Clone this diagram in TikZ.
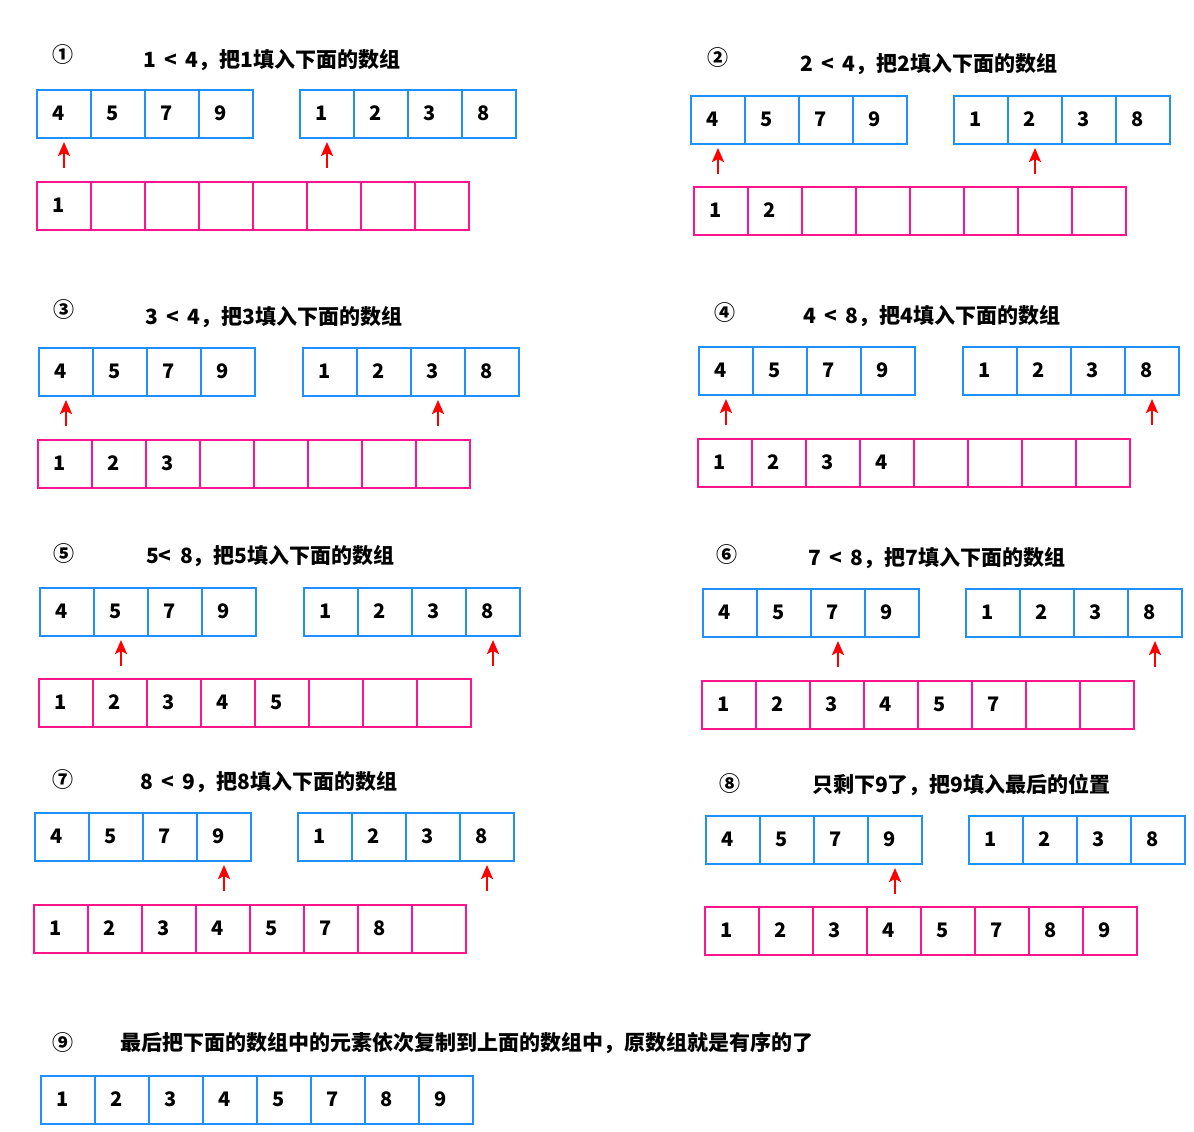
\documentclass[tikz,border=0pt]{standalone}
\usepackage{fontspec}
\setmainfont{Noto Sans CJK SC}
\usetikzlibrary{arrows.meta,calc}
\definecolor{cblue}{RGB}{30,144,255}
\definecolor{cpink}{RGB}{255,20,140}
\definecolor{cred}{RGB}{255,0,0}
\tikzset{
 cell/.style={draw, line width=2pt, minimum width=54pt, minimum height=48pt, anchor=north west,
   inner xsep=0pt, inner ysep=0pt, text height=12pt, text depth=0pt, outer sep=0pt,
   font=\fontsize{20}{22}\selectfont\bfseries},
 bluecell/.style={cell, draw=cblue},
 pinkcell/.style={cell, draw=cpink},
 pointer/.style={draw=cred, line width=2.5pt, -{Stealth[length=14pt,width=12pt,inset=3pt]}},
 stepnum/.style={font=\fontsize{21}{22}\selectfont\bfseries, inner sep=0pt},
 title/.style={anchor=west, font=\fontsize{21}{25}\selectfont\bfseries, inner sep=0pt},
}
\newcommand\tsp{\hspace{0.4em}}
\newcommand\arr[5]{\foreach \v [count=\i from 0] in {#5} {\node[#4] (#1\i) at ({#2+\i*54},{#3}) {\makebox[54pt][l]{\hspace{15pt}\v}};}}
\newcommand\ptr[2]{\coordinate (#1) at ($(#2.south)+(0,30)$); \draw[pointer] (#1) -- ([yshift=-4pt]#2.south);}
\begin{document}
\begin{tikzpicture}[x=1pt,y=-1pt]
\useasboundingbox[fill=white] (0,0) rectangle (1194,1132);
% panel 1
\node[stepnum] (n1) at (63,55) {①};
\node[title] (t1) at (143,60) {1\tsp<\tsp4，把1填入下面的数组};
\arr{p1a}{37}{90}{bluecell}{4,5,7,9}
\arr{p1b}{300}{90}{bluecell}{1,2,3,8}
\arr{p1m}{37}{182}{pinkcell}{1,{},{},{},{},{},{},{}}
\ptr{p1t1}{p1a0}
\ptr{p1t2}{p1b0}
% panel 2
\node[stepnum] (n2) at (718,58) {②};
\node[title] (t2) at (800,64) {2\tsp<\tsp4，把2填入下面的数组};
\arr{p2a}{691}{96}{bluecell}{4,5,7,9}
\arr{p2b}{954}{96}{bluecell}{1,2,3,8}
\arr{p2m}{694}{187}{pinkcell}{1,2,{},{},{},{},{},{}}
\ptr{p2t1}{p2a0}
\ptr{p2t2}{p2b1}
% panel 3
\node[stepnum] (n3) at (64,310) {③};
\node[title] (t3) at (145,317) {3\tsp<\tsp4，把3填入下面的数组};
\arr{p3a}{39}{348}{bluecell}{4,5,7,9}
\arr{p3b}{303}{348}{bluecell}{1,2,3,8}
\arr{p3m}{38}{440}{pinkcell}{1,2,3,{},{},{},{},{}}
\ptr{p3t1}{p3a0}
\ptr{p3t2}{p3b2}
% panel 4
\node[stepnum] (n4) at (725,313) {④};
\node[title] (t4) at (803,316) {4\tsp<\tsp8，把4填入下面的数组};
\arr{p4a}{699}{347}{bluecell}{4,5,7,9}
\arr{p4b}{963}{347}{bluecell}{1,2,3,8}
\arr{p4m}{698}{439}{pinkcell}{1,2,3,4,{},{},{},{}}
\ptr{p4t1}{p4a0}
\ptr{p4t2}{p4b3}
% panel 5
\node[stepnum] (n5) at (64,554) {⑤};
\node[title] (t5) at (146,556) {5<\tsp8，把5填入下面的数组};
\arr{p5a}{40}{588}{bluecell}{4,5,7,9}
\arr{p5b}{304}{588}{bluecell}{1,2,3,8}
\arr{p5m}{39}{679}{pinkcell}{1,2,3,4,5,{},{},{}}
\ptr{p5t1}{p5a1}
\ptr{p5t2}{p5b3}
% panel 6
\node[stepnum] (n6) at (727,555) {⑥};
\node[title] (t6) at (808,558) {7\tsp<\tsp8，把7填入下面的数组};
\arr{p6a}{703}{589}{bluecell}{4,5,7,9}
\arr{p6b}{966}{589}{bluecell}{1,2,3,8}
\arr{p6m}{702}{681}{pinkcell}{1,2,3,4,5,7,{},{}}
\ptr{p6t1}{p6a2}
\ptr{p6t2}{p6b3}
% panel 7
\node[stepnum] (n7) at (63,780) {⑦};
\node[title] (t7) at (140,782) {8\tsp<\tsp9，把8填入下面的数组};
\arr{p7a}{35}{813}{bluecell}{4,5,7,9}
\arr{p7b}{298}{813}{bluecell}{1,2,3,8}
\arr{p7m}{34}{905}{pinkcell}{1,2,3,4,5,7,8,{}}
\ptr{p7t1}{p7a3}
\ptr{p7t2}{p7b3}
% panel 8
\node[stepnum] (n8) at (730,784) {⑧};
\node[title] (t8) at (812,785) {只剩下9了，把9填入最后的位置};
\arr{p8a}{706}{816}{bluecell}{4,5,7,9}
\arr{p8b}{969}{816}{bluecell}{1,2,3,8}
\arr{p8m}{705}{907}{pinkcell}{1,2,3,4,5,7,8,9}
\ptr{p8t1}{p8a3}
% panel 9
\node[stepnum] (n9) at (63,1043) {⑨};
\node[title] (t9) at (120,1043) {最后把下面的数组中的元素依次复制到上面的数组中，原数组就是有序的了};
\arr{p9a}{41}{1076}{bluecell}{1,2,3,4,5,7,8,9}
\end{tikzpicture}
\end{document}
